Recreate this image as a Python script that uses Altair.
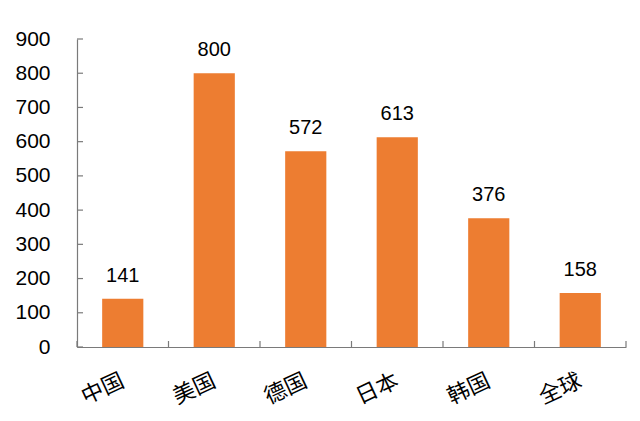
import altair as alt
import pandas as pd

categories = ["中国", "美国", "德国", "日本", "韩国", "全球"]
values = [141, 800, 572, 613, 376, 158]
y_ticks = [0, 100, 200, 300, 400, 500, 600, 700, 800, 900]

W, H = 549, 308
BAR = "#ED7D31"
AXIS = "#7a7a7a"
NUM_FONT = "Liberation Sans"
CJK_FONT = "Noto Sans CJK SC"

df = pd.DataFrame({"cat": categories, "val": values})
ticks_df = pd.DataFrame({"t": y_ticks})
last_df = pd.DataFrame({"cat": [categories[-1]]})

bar_scale = alt.Scale(domain=categories, paddingInner=0.55, paddingOuter=0.275)
step_scale = alt.Scale(domain=categories, paddingInner=0, paddingOuter=0)
y_scale = alt.Scale(domain=[0, 900], nice=False)

y_axis = alt.Axis(values=y_ticks, labelFont=NUM_FONT, labelFontSize=21,
                  labelColor="#000000", labelPadding=27, ticks=False, tickSize=0,
                  labelOverlap=False, labelFlush=False, title=None,
                  grid=False, domainColor=AXIS, domainWidth=1.2)

bars = alt.Chart(df).mark_bar(color=BAR).encode(
    x=alt.X("cat:N", sort=None, scale=bar_scale, title=None,
            axis=alt.Axis(labelAngle=-25, labelAlign="right", labelBaseline="middle",
                          labelFont=CJK_FONT, labelFontSize=22, labelColor="#000000",
                          labelPadding=32, ticks=False, tickSize=0, labelOverlap=False,
                          domainColor=AXIS, domainWidth=1.2)),
    y=alt.Y("val:Q", scale=y_scale, title=None, axis=y_axis),
)

labels = alt.Chart(df).mark_text(
    font=NUM_FONT, fontSize=20, color="#000000", baseline="bottom", dy=-13
).encode(
    x=alt.X("cat:N", sort=None, scale=bar_scale, axis=None),
    y=alt.Y("val:Q", scale=y_scale, title=None, axis=y_axis),
    text=alt.Text("val:Q"),
)

ytick_marks = alt.Chart(ticks_df).mark_rule(color=AXIS, strokeWidth=1.2).encode(
    y=alt.Y("t:Q", scale=y_scale, title=None, axis=y_axis),
    x=alt.value(0),
    x2=alt.value(6),
)

xtick_marks = alt.Chart(df).mark_rule(color=AXIS, strokeWidth=1.2).encode(
    x=alt.X("cat:N", sort=None, scale=step_scale, axis=None, bandPosition=0),
    y=alt.value(H - 6),
    y2=alt.value(H),
)

xtick_last = alt.Chart(last_df).mark_rule(color=AXIS, strokeWidth=1.2).encode(
    x=alt.X("cat:N", sort=None, scale=step_scale, axis=None, bandPosition=1),
    y=alt.value(H - 6),
    y2=alt.value(H),
)

chart = alt.layer(bars, labels, ytick_marks, xtick_marks, xtick_last).resolve_scale(
    x="independent"
).properties(
    width=W, height=H,
    autosize=alt.AutoSizeParams(type="none"),
    padding={"left": 69, "top": 31, "right": 6, "bottom": 66},
    background="#ffffff",
).configure_view(stroke=None)

chart.save("out.html", embed_options={"renderer": "svg", "actions": False})
